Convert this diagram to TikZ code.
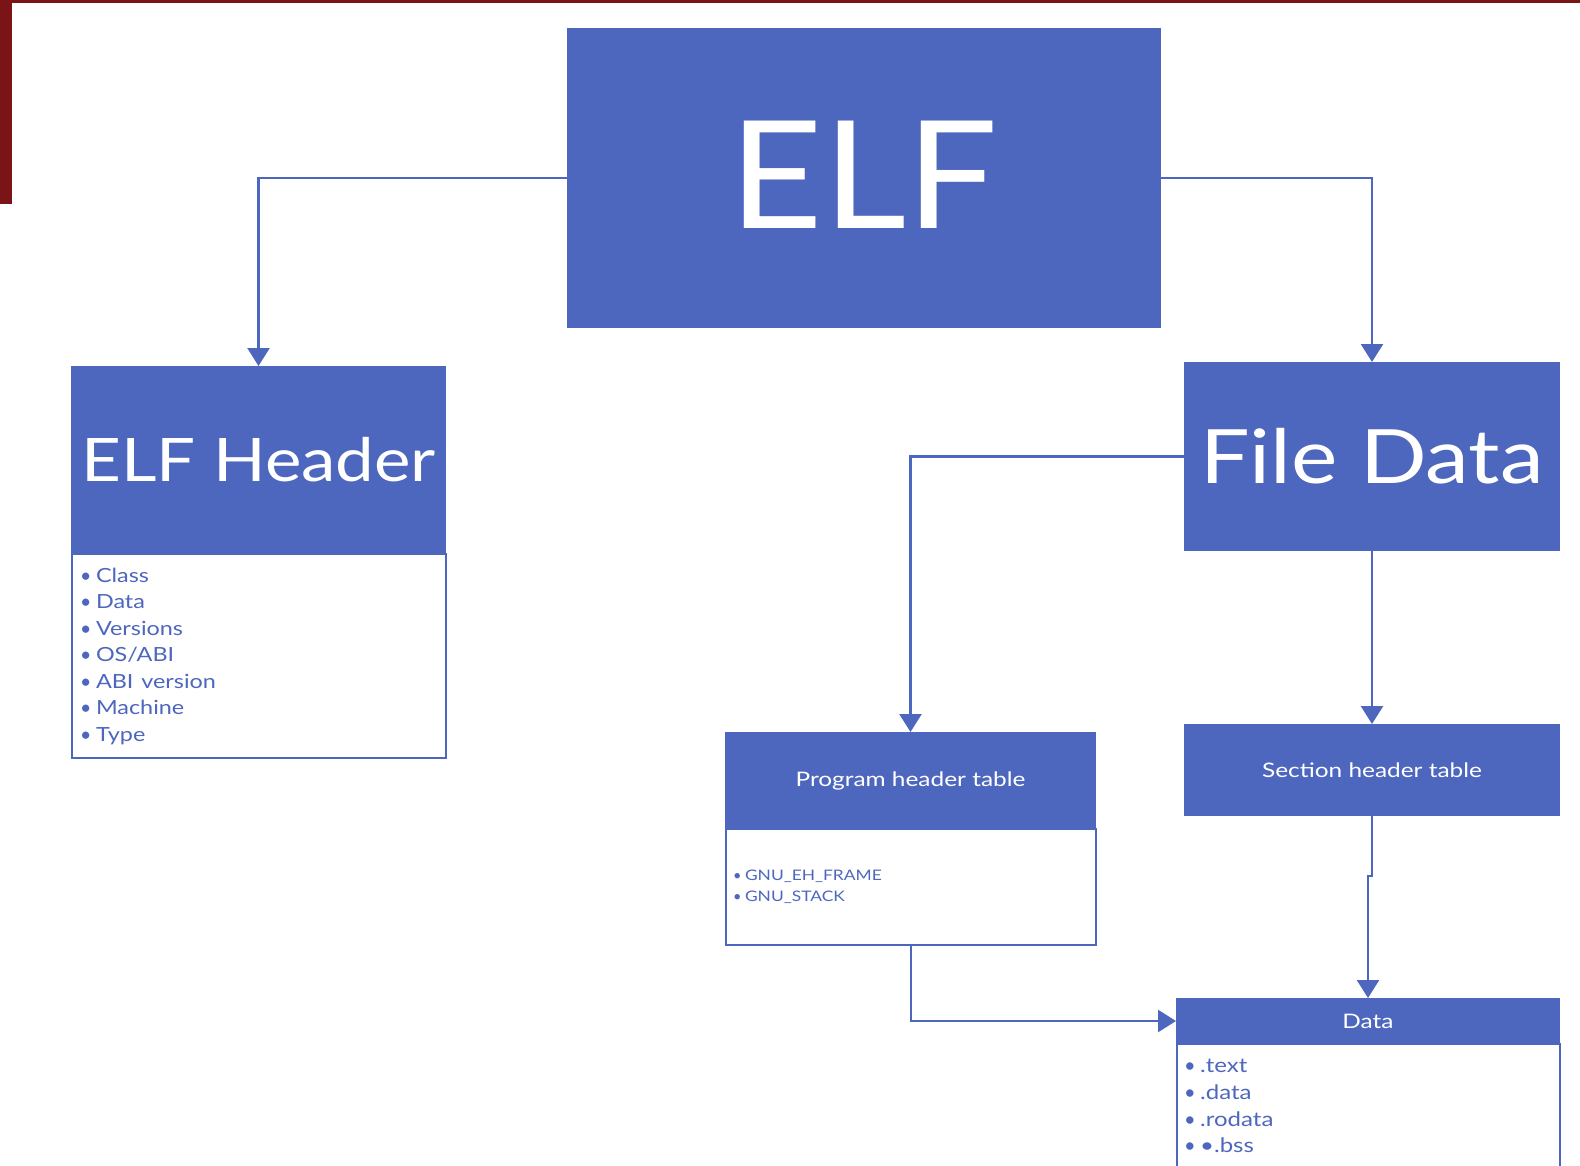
\documentclass[tikz,border=0pt]{standalone}
\usepackage{fontspec}
\setmainfont{Lato}
\usetikzlibrary{arrows.meta}
\definecolor{elfblue}{HTML}{4E67BE}
\definecolor{slidered}{RGB}{122,20,22}
\tikzset{
  blk/.style={rectangle,fill=elfblue,draw=elfblue,line width=1pt,text=white,inner sep=0pt,anchor=north west},
  fields/.style={rectangle,draw=elfblue,line width=2pt,fill=white,text=elfblue,align=left,anchor=north west,inner ysep=0pt},
  link/.style={draw=elfblue,line width=2.5pt,-{Triangle[width=22pt,length=18pt]}}
}
% wide text, as the slide stretches it
\newcommand{\wide}[2]{\scalebox{#1}[1]{#2}}
\newcommand{\li}[1]{\makebox[16pt][l]{\textbullet}\wide{1.2}{#1}}
\newcommand{\smli}[1]{\makebox[12pt][l]{\textbullet}\wide{1.2}{#1}}

\begin{document}
\begin{tikzpicture}[x=1pt,y=-1pt]
\useasboundingbox (0,0) rectangle (1580,1165);
\fill[slidered] (0,0) rectangle (1580,3);
\fill[slidered] (0,0) rectangle (12,204);

\node[blk,minimum width=593,minimum height=299,text depth=6pt,font=\fontsize{150}{155}\selectfont] (elf) at (567,28) {\wide{1.08}{ELF}};

% left branch
\node[fields,inner xsep=8pt,text width=358pt,minimum height=204,font=\fontsize{19.5}{26.5}\selectfont] (hdrfields) at (71,553)
  {\li{Class}\\ \li{Data}\\ \li{Versions}\\ \li{OS/ABI}\\ \li{ABI version}\\ \li{Machine}\\ \li{Type}};
\node[blk,minimum width=374,minimum height=187,font=\fontsize{60}{64}\selectfont] (hdr) at (71,366) {\wide{1.15}{ELF Header}};

% right branch
\node[blk,minimum width=375,minimum height=188,font=\fontsize{75}{78}\selectfont] (fdata) at (1184,362) {\wide{1.17}{File Data}};

\node[fields,inner xsep=7pt,text width=356pt,minimum height=116,font=\fontsize{14.5}{20.5}\selectfont] (progfields) at (725,828)
  {\smli{GNU\_EH\_FRAME}\\ \smli{GNU\_STACK}};
\node[blk,minimum width=370,minimum height=96,font=\fontsize{20}{24}\selectfont] (prog) at (725,732) {\wide{1.22}{Program header table}};

\node[blk,minimum width=375,minimum height=91,font=\fontsize{20}{24}\selectfont] (sect) at (1184,724) {\wide{1.22}{Section header table}};

\node[fields,minimum width=383,minimum height=170] (datafields) at (1176,1043) {};
\node[blk,minimum width=383,minimum height=45,font=\fontsize{20}{24}\selectfont] (data) at (1176,998) {\wide{1.22}{Data}};
\node[anchor=north west,inner sep=0pt,align=left,text=elfblue,font=\fontsize{20}{26.7}\selectfont] (datalist) at (1184,1059)
  {\li{.text}\\ \li{.data}\\ \li{.rodata}\\ \li{\textbullet.bss}};

% connectors
\draw[link] (elf.west) -| (hdr.north);
\draw[link] (elf.east) -| (fdata.north);
\draw[link] (fdata.west) -| (prog.north);
\draw[link] (fdata.south) -- (sect.north);
\draw[link] (sect.south) -- ++(0,60) -| (data.north);
\draw[link] (progfields.south) |- (data.west);
\end{tikzpicture}
\end{document}
